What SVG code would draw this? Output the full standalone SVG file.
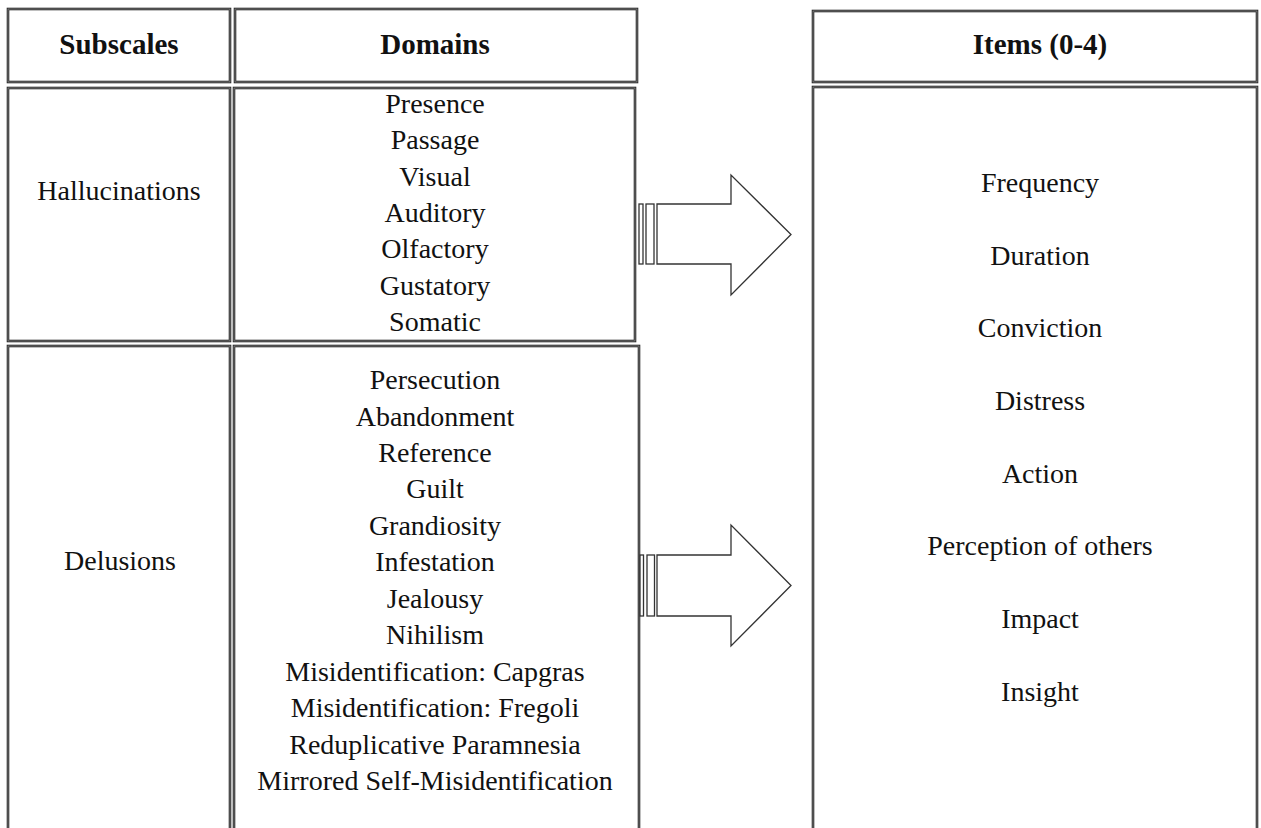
<svg xmlns="http://www.w3.org/2000/svg" width="1261" height="828" viewBox="0 0 1261 828">
  <style>
    .cell { fill: #ffffff; stroke: #262626; stroke-width: 2.6; }
    .cell-in { fill: none; stroke: #8c8c8c; stroke-width: 0.8; }
    .hdr { font-family: "Liberation Serif", "Times New Roman", serif; font-size: 29px; font-weight: bold; fill: #111; text-anchor: middle; }
    .txt { font-family: "Liberation Serif", "Times New Roman", serif; font-size: 28px; fill: #111; text-anchor: middle; }
    .arrow { fill: #ffffff; stroke: #333333; stroke-width: 1.3; stroke-linejoin: miter; }
  </style>

  <rect width="1261" height="828" fill="#ffffff"/>

  <!-- header row -->
  <g id="hdr-subscales">
    <rect class="cell" x="8" y="9" width="222" height="73"/>
    <rect class="cell-in" x="8" y="9" width="222" height="73"/>
    <text class="hdr" x="119" y="54">Subscales</text>
  </g>
  <g id="hdr-domains">
    <rect class="cell" x="235" y="9" width="402" height="73"/>
    <rect class="cell-in" x="235" y="9" width="402" height="73"/>
    <text class="hdr" x="435" y="54">Domains</text>
  </g>
  <g id="hdr-items">
    <rect class="cell" x="813" y="11" width="444" height="71"/>
    <rect class="cell-in" x="813" y="11" width="444" height="71"/>
    <text class="hdr" x="1040" y="54">Items (0-4)</text>
  </g>

  <!-- hallucinations row -->
  <g id="sub-hallucinations">
    <rect class="cell" x="8" y="88" width="222" height="253"/>
    <rect class="cell-in" x="8" y="88" width="222" height="253"/>
    <text class="txt" x="119" y="200">Hallucinations</text>
  </g>
  <g id="dom-hallucinations">
    <rect class="cell" x="234" y="88" width="401" height="253"/>
    <rect class="cell-in" x="234" y="88" width="401" height="253"/>
    <text class="txt" x="435" y="113">Presence</text>
    <text class="txt" x="435" y="149.3">Passage</text>
    <text class="txt" x="435" y="185.6">Visual</text>
    <text class="txt" x="435" y="221.9">Auditory</text>
    <text class="txt" x="435" y="258.2">Olfactory</text>
    <text class="txt" x="435" y="294.5">Gustatory</text>
    <text class="txt" x="435" y="330.8">Somatic</text>
  </g>

  <!-- delusions row -->
  <g id="sub-delusions">
    <rect class="cell" x="8" y="346" width="222" height="500"/>
    <rect class="cell-in" x="8" y="346" width="222" height="500"/>
    <text class="txt" x="120" y="570">Delusions</text>
  </g>
  <g id="dom-delusions">
    <rect class="cell" x="234" y="346" width="405" height="500"/>
    <rect class="cell-in" x="234" y="346" width="405" height="500"/>
    <text class="txt" x="435" y="389">Persecution</text>
    <text class="txt" x="435" y="425.5">Abandonment</text>
    <text class="txt" x="435" y="462">Reference</text>
    <text class="txt" x="435" y="498.4">Guilt</text>
    <text class="txt" x="435" y="534.8">Grandiosity</text>
    <text class="txt" x="435" y="571.3">Infestation</text>
    <text class="txt" x="435" y="607.7">Jealousy</text>
    <text class="txt" x="435" y="644.2">Nihilism</text>
    <text class="txt" x="435" y="680.6">Misidentification: Capgras</text>
    <text class="txt" x="435" y="717">Misidentification: Fregoli</text>
    <text class="txt" x="435" y="753.5">Reduplicative Paramnesia</text>
    <text class="txt" x="435" y="790">Mirrored Self-Misidentification</text>
  </g>

  <!-- items column -->
  <g id="items">
    <rect class="cell" x="813" y="87" width="444" height="760"/>
    <rect class="cell-in" x="813" y="87" width="444" height="760"/>
    <text class="txt" x="1040" y="192">Frequency</text>
    <text class="txt" x="1040" y="264.7">Duration</text>
    <text class="txt" x="1040" y="337">Conviction</text>
    <text class="txt" x="1040" y="409.5">Distress</text>
    <text class="txt" x="1040" y="482.5">Action</text>
    <text class="txt" x="1040" y="555">Perception of others</text>
    <text class="txt" x="1040" y="628">Impact</text>
    <text class="txt" x="1040" y="701">Insight</text>
  </g>

  <!-- striped block arrows -->
  <g id="connectors">
    <g id="arrow-hallucinations">
      <rect class="arrow" x="639" y="204" width="4" height="60"/>
      <rect class="arrow" x="646" y="204" width="8" height="60"/>
      <path class="arrow" d="M657,204 H731 V175 L791,234.5 L731,295 V264 H657 Z"/>
    </g>
    <g id="arrow-delusions">
      <rect class="arrow" x="640" y="555" width="3.5" height="61"/>
      <rect class="arrow" x="647" y="555" width="7.5" height="61"/>
      <path class="arrow" d="M657,555 H731 V525 L791,585.5 L731,646 V616 H657 Z"/>
    </g>
  </g>
</svg>
